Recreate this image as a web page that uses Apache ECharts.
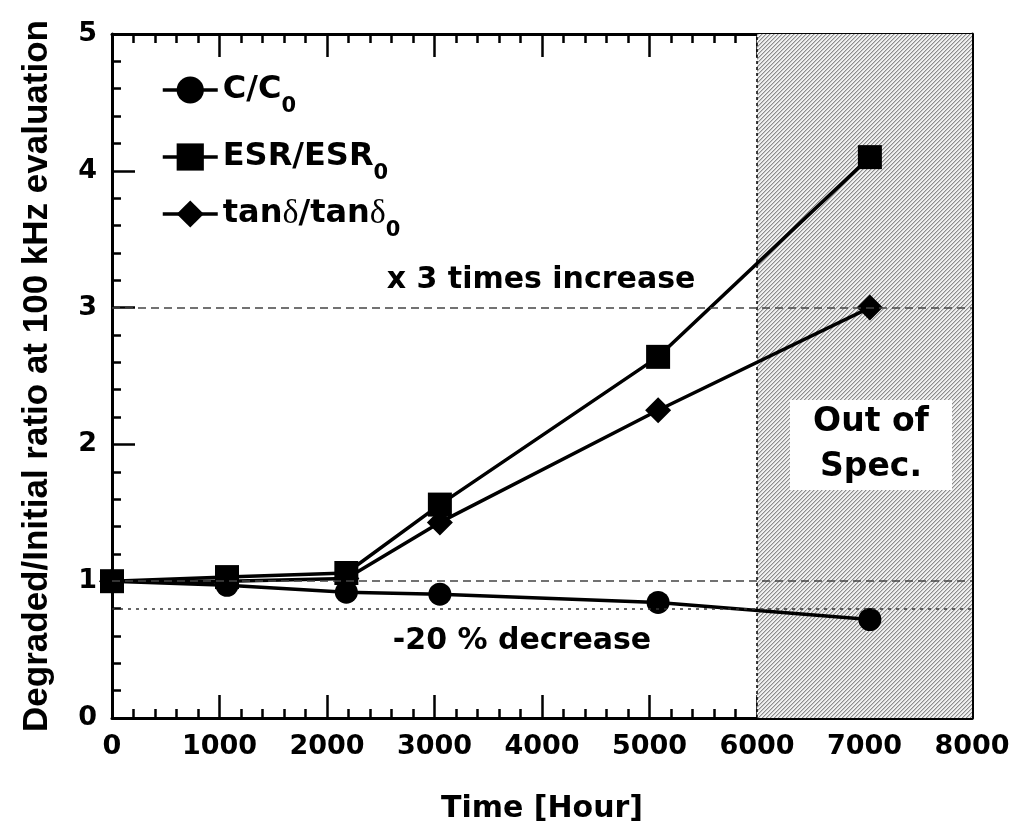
<!DOCTYPE html>
<html>
<head>
<meta charset="utf-8">
<script src="https://cdn.jsdelivr.net/npm/echarts@6/dist/echarts.min.js"></script>
<style>html,body{margin:0;padding:0;background:#fff}#c{width:1015px;height:834px}</style>
</head>
<body>
<div id="c"></div>
<script>
// ---- data ----
var hours = [0, 1070, 2180, 3050, 5080, 7050];
var capRatio = [1.0, 0.97, 0.92, 0.905, 0.845, 0.72];
var esrRatio = [1.0, 1.03, 1.06, 1.56, 2.64, 4.10];
var tanRatio = [1.0, 1.0, 1.02, 1.43, 2.25, 3.0];
var xTicks = [0, 8000, 1000];
var yTicks = [0, 5, 1];
var specLimitHour = 6000;
var refIncrease = 3;
var refUnity = 1;
var refDecrease = 0.8;

function pairs(xs, ys) { return xs.map(function (x, i) { return [x, ys[i]]; }); }

// hatch pattern
var tile = document.createElement('canvas');
var N = 4;
tile.width = N; tile.height = N;
var tctx = tile.getContext('2d');
var img = tctx.createImageData(N, N);
for (var y = 0; y < N; y++) {
  for (var x = 0; x < N; x++) {
    var k = (x + y) % N;
    var v = (k === N - 1) ? 140 : (k === 0) ? 200 : 240;
    var p = (y * N + x) * 4;
    img.data[p] = v; img.data[p + 1] = v; img.data[p + 2] = v; img.data[p + 3] = 255;
  }
}
tctx.putImageData(img, 0, 0);

var FONT = 'DejaVu Sans';
var chart = echarts.init(document.getElementById('c'), null, { renderer: 'canvas' });

function axisCommon(pos, showLabel, t) {
  return {
    type: 'value', position: pos, min: t[0], max: t[1], interval: t[2],
    axisLine: { show: true, onZero: false, lineStyle: { color: '#000', width: 3 } },
    axisTick: { show: true, inside: true, length: 23, lineStyle: { color: '#000', width: 2.5 } },
    minorTick: { show: true, splitNumber: 5, length: 9, lineStyle: { color: '#000', width: 2.5 } },
    splitLine: { show: false },
    axisLabel: { show: showLabel, color: '#000', fontFamily: FONT, fontWeight: 'bold', fontSize: 27, margin: 15,
      formatter: function (v) { return String(v); } }
  };
}

var xBottom = axisCommon('bottom', true, xTicks);
xBottom.name = 'Time [Hour]';
xBottom.nameLocation = 'middle';
xBottom.nameGap = 76;
xBottom.nameTextStyle = { color: '#000', fontFamily: FONT, fontWeight: 'bold', fontSize: 30 };
var xTop = axisCommon('top', false, xTicks);
var yLeft = axisCommon('left', true, yTicks);
yLeft.name = 'Degraded/Initial ratio at 100 kHz evaluation';
yLeft.nameLocation = 'middle';
yLeft.nameRotate = 90;
yLeft.nameGap = 57;
yLeft.nameTextStyle = { color: '#000', fontFamily: 'Liberation Sans', fontWeight: 'bold', fontSize: 35 };
var yRight = axisCommon('right', false, yTicks);

var legendRich = {
  m: { fontFamily: FONT, fontWeight: 'bold', fontSize: 32, color: '#000', lineHeight: 40, verticalAlign: 'middle' },
  d: { fontFamily: 'Liberation Serif', fontWeight: 'normal', fontSize: 34, color: '#000', lineHeight: 40, verticalAlign: 'middle' },
  s: { fontFamily: FONT, fontWeight: 'bold', fontSize: 21, color: '#000', padding: [34, 0, 0, 0], verticalAlign: 'middle' }
};
function mkLegend(name, top, fmt) {
  return {
    show: true, orient: 'vertical', left: 156, top: top, data: [name],
    itemWidth: 55, itemHeight: 34, itemGap: 0,
    selectedMode: false,
    formatter: function () { return fmt; },
    lineStyle: { width: 3.5 },
    textStyle: { rich: legendRich }
  };
}

var lineBase = { type: 'line', lineStyle: { color: '#000', width: 3.5 }, itemStyle: { color: '#000' }, z: 3, animation: false };

var option = {
  animation: false,
  backgroundColor: '#fff',
  grid: { left: 112, top: 34, width: 860, height: 684, outerBoundsMode: 'none', containLabel: false },
  xAxis: [xBottom, xTop],
  yAxis: [yLeft, yRight],
  legend: [
    mkLegend('C/C0', 69, '{m|C/C}{s|0}'),
    mkLegend('ESR/ESR0', 136, '{m|ESR/ESR}{s|0}'),
    mkLegend('tanδ/tanδ0', 192, '{m|tan}{d|δ}{m|/tan}{d|δ}{s|0}')
  ],
  series: [
    Object.assign({}, lineBase, {
      name: 'C/C0', symbol: 'circle', symbolSize: 23, data: pairs(hours, capRatio),
      markArea: {
        silent: true,
        itemStyle: { color: { image: tile, repeat: 'repeat' }, borderWidth: 0 },
        data: [[{ xAxis: specLimitHour }, { xAxis: xTicks[1] }]]
      },
      markLine: {
        silent: true, symbol: 'none', label: { show: false },
        data: [
          { xAxis: specLimitHour, lineStyle: { color: '#000', width: 1.5, type: [3, 3] } },
          { yAxis: refIncrease, lineStyle: { color: '#444', width: 1.5, type: [8, 5] } },
          { yAxis: refUnity, lineStyle: { color: '#444', width: 1.5, type: [8, 5] } },
          { yAxis: refDecrease, lineStyle: { color: '#333', width: 1.5, type: [3, 5] } }
        ]
      }
    }),
    Object.assign({}, lineBase, { name: 'tanδ/tanδ0', symbol: 'diamond', symbolSize: 26, data: pairs(hours, tanRatio) }),
    Object.assign({}, lineBase, { name: 'ESR/ESR0', symbol: 'rect', symbolSize: 24, data: pairs(hours, esrRatio) })
  ],
  graphic: [
    { type: 'text', x: 541, y: 280, z: 10, style: { text: 'x 3 times increase', fill: '#000', font: 'bold 30px "DejaVu Sans"', align: 'center', verticalAlign: 'middle' } },
    { type: 'text', x: 522, y: 641, z: 10, style: { text: '-20 % decrease', fill: '#000', font: 'bold 30px "DejaVu Sans"', align: 'center', verticalAlign: 'middle' } },
    { type: 'rect', shape: { x: 790, y: 400, width: 162, height: 90 }, z: 10, style: { fill: '#fff' } },
    { type: 'text', x: 871, y: 445, z: 11, style: { text: 'Out of\nSpec.', fill: '#000', font: 'bold 33px "DejaVu Sans"', lineHeight: 45, align: 'center', verticalAlign: 'middle' } }
  ]
};
chart.setOption(option);
</script>
</body>
</html>
